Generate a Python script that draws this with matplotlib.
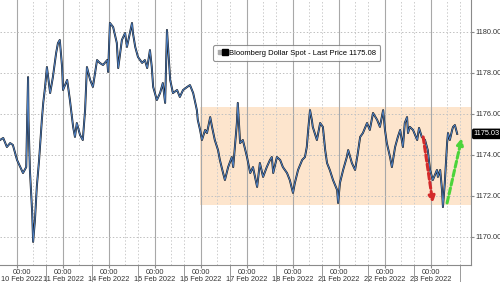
import matplotlib
matplotlib.use('Agg')
from matplotlib import pyplot as plt
from matplotlib.lines import Line2D
from matplotlib.legend_handler import HandlerTuple
from matplotlib.transforms import blended_transform_factory, ScaledTranslation

plt.rcParams['font.family'] = ['Liberation Sans', 'DejaVu Sans']

# trading days shown on the x axis (one unit = one trading day, 0 = 10 Feb 00:00)
days = ['10 Feb 2022', '11 Feb 2022', '14 Feb 2022', '15 Feb 2022', '16 Feb 2022',
        '17 Feb 2022', '18 Feb 2022', '21 Feb 2022', '22 Feb 2022', '23 Feb 2022']

# intraday series (time in trading days, price)
t = [-0.37, -0.30, -0.22, -0.15, -0.09, 0.00, 0.07, 0.13, 0.20, 0.24, 0.25, 0.28, 0.33, 0.35,
     0.39, 0.43, 0.48, 0.54, 0.57, 0.61, 0.65, 0.72, 0.78, 0.85, 0.89, 0.93, 0.98,
     1.00, 1.09, 1.15, 1.22, 1.26, 1.30, 1.37, 1.43, 1.48, 1.52, 1.59, 1.65, 1.74, 1.80,
     1.87, 1.96, 1.98,
     2.02, 2.09, 2.17, 2.20, 2.28, 2.35, 2.39, 2.50, 2.52, 2.57, 2.63, 2.72, 2.78, 2.83,
     2.89, 2.93, 2.96,
     3.04, 3.11, 3.17, 3.22, 3.26, 3.33, 3.39, 3.48, 3.54, 3.61, 3.70, 3.76, 3.83, 3.91,
     3.93, 3.98,
     4.02, 4.09, 4.13, 4.20, 4.24, 4.30, 4.37, 4.41, 4.48, 4.52, 4.59, 4.67, 4.70, 4.78,
     4.80, 4.85, 4.91,
     5.00, 5.07, 5.13, 5.22, 5.28, 5.35, 5.43, 5.50, 5.54, 5.57, 5.65, 5.72, 5.78, 5.87,
     5.93,
     6.00, 6.04, 6.11, 6.20, 6.26, 6.30, 6.33, 6.37, 6.41, 6.43, 6.52, 6.59, 6.65, 6.70,
     6.74, 6.80, 6.87, 6.96, 6.98,
     7.02, 7.09, 7.17, 7.20, 7.28, 7.35, 7.41, 7.46, 7.52, 7.61, 7.67, 7.74, 7.83, 7.89,
     7.96,
     8.00, 8.04, 8.11, 8.15, 8.22, 8.28, 8.33, 8.39, 8.43, 8.48, 8.50, 8.54, 8.61, 8.70,
     8.74, 8.80, 8.87, 8.93, 8.98,
     9.04, 9.13, 9.15, 9.20, 9.24, 9.26, 9.30, 9.35, 9.37, 9.41, 9.46, 9.48, 9.52, 9.57]
price = [1174.73, 1174.83, 1174.39, 1174.58, 1174.49, 1173.76, 1173.41, 1173.12, 1173.41,
         1177.80, 1175.71, 1173.27, 1171.17, 1169.76, 1170.83, 1172.44, 1173.76, 1175.71,
         1176.54, 1177.32, 1178.29, 1177.02, 1177.80, 1178.97, 1179.46, 1179.61, 1178.29,
         1177.17, 1177.66, 1176.68, 1175.37, 1174.88, 1175.56, 1174.98, 1174.73, 1176.19,
         1178.29, 1177.66, 1177.32, 1178.63, 1178.49, 1178.39, 1178.63, 1178.05,
         1180.44, 1180.24, 1179.46, 1178.24, 1179.61, 1179.95, 1179.27, 1180.44, 1179.95,
         1179.27, 1178.78, 1178.49, 1178.63, 1178.24, 1179.12, 1178.29, 1177.32,
         1176.68, 1177.02, 1177.51, 1176.54, 1180.10, 1177.66, 1177.02, 1177.17, 1176.83,
         1177.17, 1177.32, 1177.41, 1177.02, 1176.19, 1175.71, 1175.22,
         1174.73, 1175.22, 1175.07, 1175.85, 1175.37, 1174.73, 1174.24, 1173.76, 1173.12,
         1172.78, 1173.41, 1173.90, 1173.41, 1175.56, 1176.54, 1174.58, 1174.73,
         1173.90, 1173.12, 1173.41, 1172.44, 1173.61, 1172.93, 1173.41, 1173.76, 1173.90,
         1173.12, 1173.90, 1173.76, 1173.41, 1173.12, 1172.78,
         1172.15, 1172.63, 1173.27, 1173.76, 1173.90, 1174.39, 1175.22, 1176.19, 1175.71,
         1175.37, 1174.73, 1175.56, 1175.37, 1174.24, 1173.61, 1173.27, 1172.78, 1172.29,
         1171.66,
         1172.63, 1173.27, 1173.90, 1174.24, 1173.61, 1173.27, 1174.10, 1174.88, 1175.07,
         1175.56, 1175.22, 1176.05, 1175.71, 1175.37, 1176.19,
         1175.22, 1174.58, 1173.90, 1173.41, 1174.39, 1174.88, 1175.22, 1174.39, 1175.56,
         1175.85, 1175.07, 1175.37, 1175.22, 1174.73, 1175.32, 1174.88, 1174.73, 1174.24,
         1173.27,
         1172.78, 1173.27, 1172.93, 1173.27, 1172.29, 1171.46, 1172.63, 1174.58, 1175.07,
         1174.73, 1175.22, 1175.37, 1175.46, 1175.03]

last_price = 1175.03
legend_price = 1175.08
range_band = [1171.56, 1176.34]   # shaded trading range
band_start = 3.98
red_arrow = [(8.83, 1174.88), (9.04, 1171.66)]
green_arrow = [(9.35, 1171.66), (9.67, 1174.83)]
yticks = [1170, 1172, 1174, 1176, 1178, 1180]

fig = plt.figure(figsize=(5, 2.82), dpi=100)
ax = fig.add_axes([0, 0.06, 0.942, 0.94])
ax.set_xlim(-0.37, 9.87)
ax.set_ylim(1168.63, 1181.56)

# shaded range
ax.fill_between([band_start, 9.87], range_band[0], range_band[1], color='#fde5cd', zorder=0, lw=0)

# grid
for i in range(len(days)):
    ax.axvline(i, color='#a8a8a8', lw=0.8, zorder=1)
    ax.axvline(i + 0.34, color='#cccccc', lw=0.7, ls=(0, (1.5, 2)), zorder=1)
    ax.axvline(i + 0.62, color='#cccccc', lw=0.7, ls=(0, (1.5, 2)), zorder=1)
for y in yticks:
    ax.axhline(y, color='#c0c0c0', lw=0.7, ls=(0, (1.5, 2)), zorder=1)

# price line
ax.plot(t, price, color='#151515', lw=1.4, zorder=3)
ax.plot(t, price, color='#4f82c6', lw=0.7, zorder=4)

# arrows
ax.annotate('', xy=red_arrow[1], xytext=red_arrow[0], zorder=5,
            arrowprops=dict(arrowstyle='-|>', color='#d42a2a', lw=2.2, ls=(0, (2, 1)),
                            mutation_scale=9, shrinkA=0, shrinkB=0))
ax.annotate('', xy=green_arrow[1], xytext=green_arrow[0], zorder=5,
            arrowprops=dict(arrowstyle='-|>', color='#4cd43a', lw=2.2, ls=(0, (2, 1)),
                            mutation_scale=9, shrinkA=0, shrinkB=0))

# axes styling
for s in ['left', 'top']:
    ax.spines[s].set_visible(False)
for s in ['right', 'bottom']:
    ax.spines[s].set_color('#8a8a8a')
    ax.spines[s].set_linewidth(0.8)
ax.yaxis.tick_right()
ax.set_yticks(yticks)
ax.set_yticklabels(['%.2f' % v for v in yticks])
ax.tick_params(axis='y', labelsize=5.3, length=2, pad=1, color='#8a8a8a')
ax.set_xticks(range(len(days)))
ax.set_xticklabels(['00:00\n' + d for d in days], linespacing=1.0)
ax.tick_params(axis='x', labelsize=5.3, length=2, pad=0.5, color='#8a8a8a')
ax.set_xticks([i + 0.62 for i in range(len(days))], minor=True)
ax.tick_params(axis='x', which='minor', length=12, color='#8a8a8a')
for lab in ax.get_xticklabels() + ax.get_yticklabels():
    lab.set_color('#333333')
# first date label sits on the left edge, nudge it in
first = ax.get_xticklabels()[0]
first.set_transform(first.get_transform() + ScaledTranslation(0.045, 0, fig.dpi_scale_trans))

# last price tag
tr = blended_transform_factory(ax.transAxes, ax.transData)
ax.text(1.006, last_price, '%.2f' % last_price, transform=tr, fontsize=5.3, color='white',
        va='center', ha='left',
        bbox=dict(boxstyle='round,pad=0.15', fc='black', ec='black'), clip_on=False)

# legend
h = (Line2D([], [], marker='s', ls='', color='#aaaaaa', markersize=2.5),
     Line2D([], [], marker='s', ls='', color='black', markersize=4.5))
leg = ax.legend([h], ['Bloomberg Dollar Spot - Last Price %.2f' % legend_price],
                handler_map={tuple: HandlerTuple(ndivide=None, pad=0.1)},
                loc='center', bbox_to_anchor=(0.63, 0.80), fontsize=5.5, frameon=True,
                fancybox=True, handlelength=1.2, handletextpad=0.3, borderpad=0.55,
                borderaxespad=0)
leg.get_frame().set_edgecolor('#777777')
leg.get_frame().set_linewidth(0.8)

fig.savefig('out.png', dpi=100)
